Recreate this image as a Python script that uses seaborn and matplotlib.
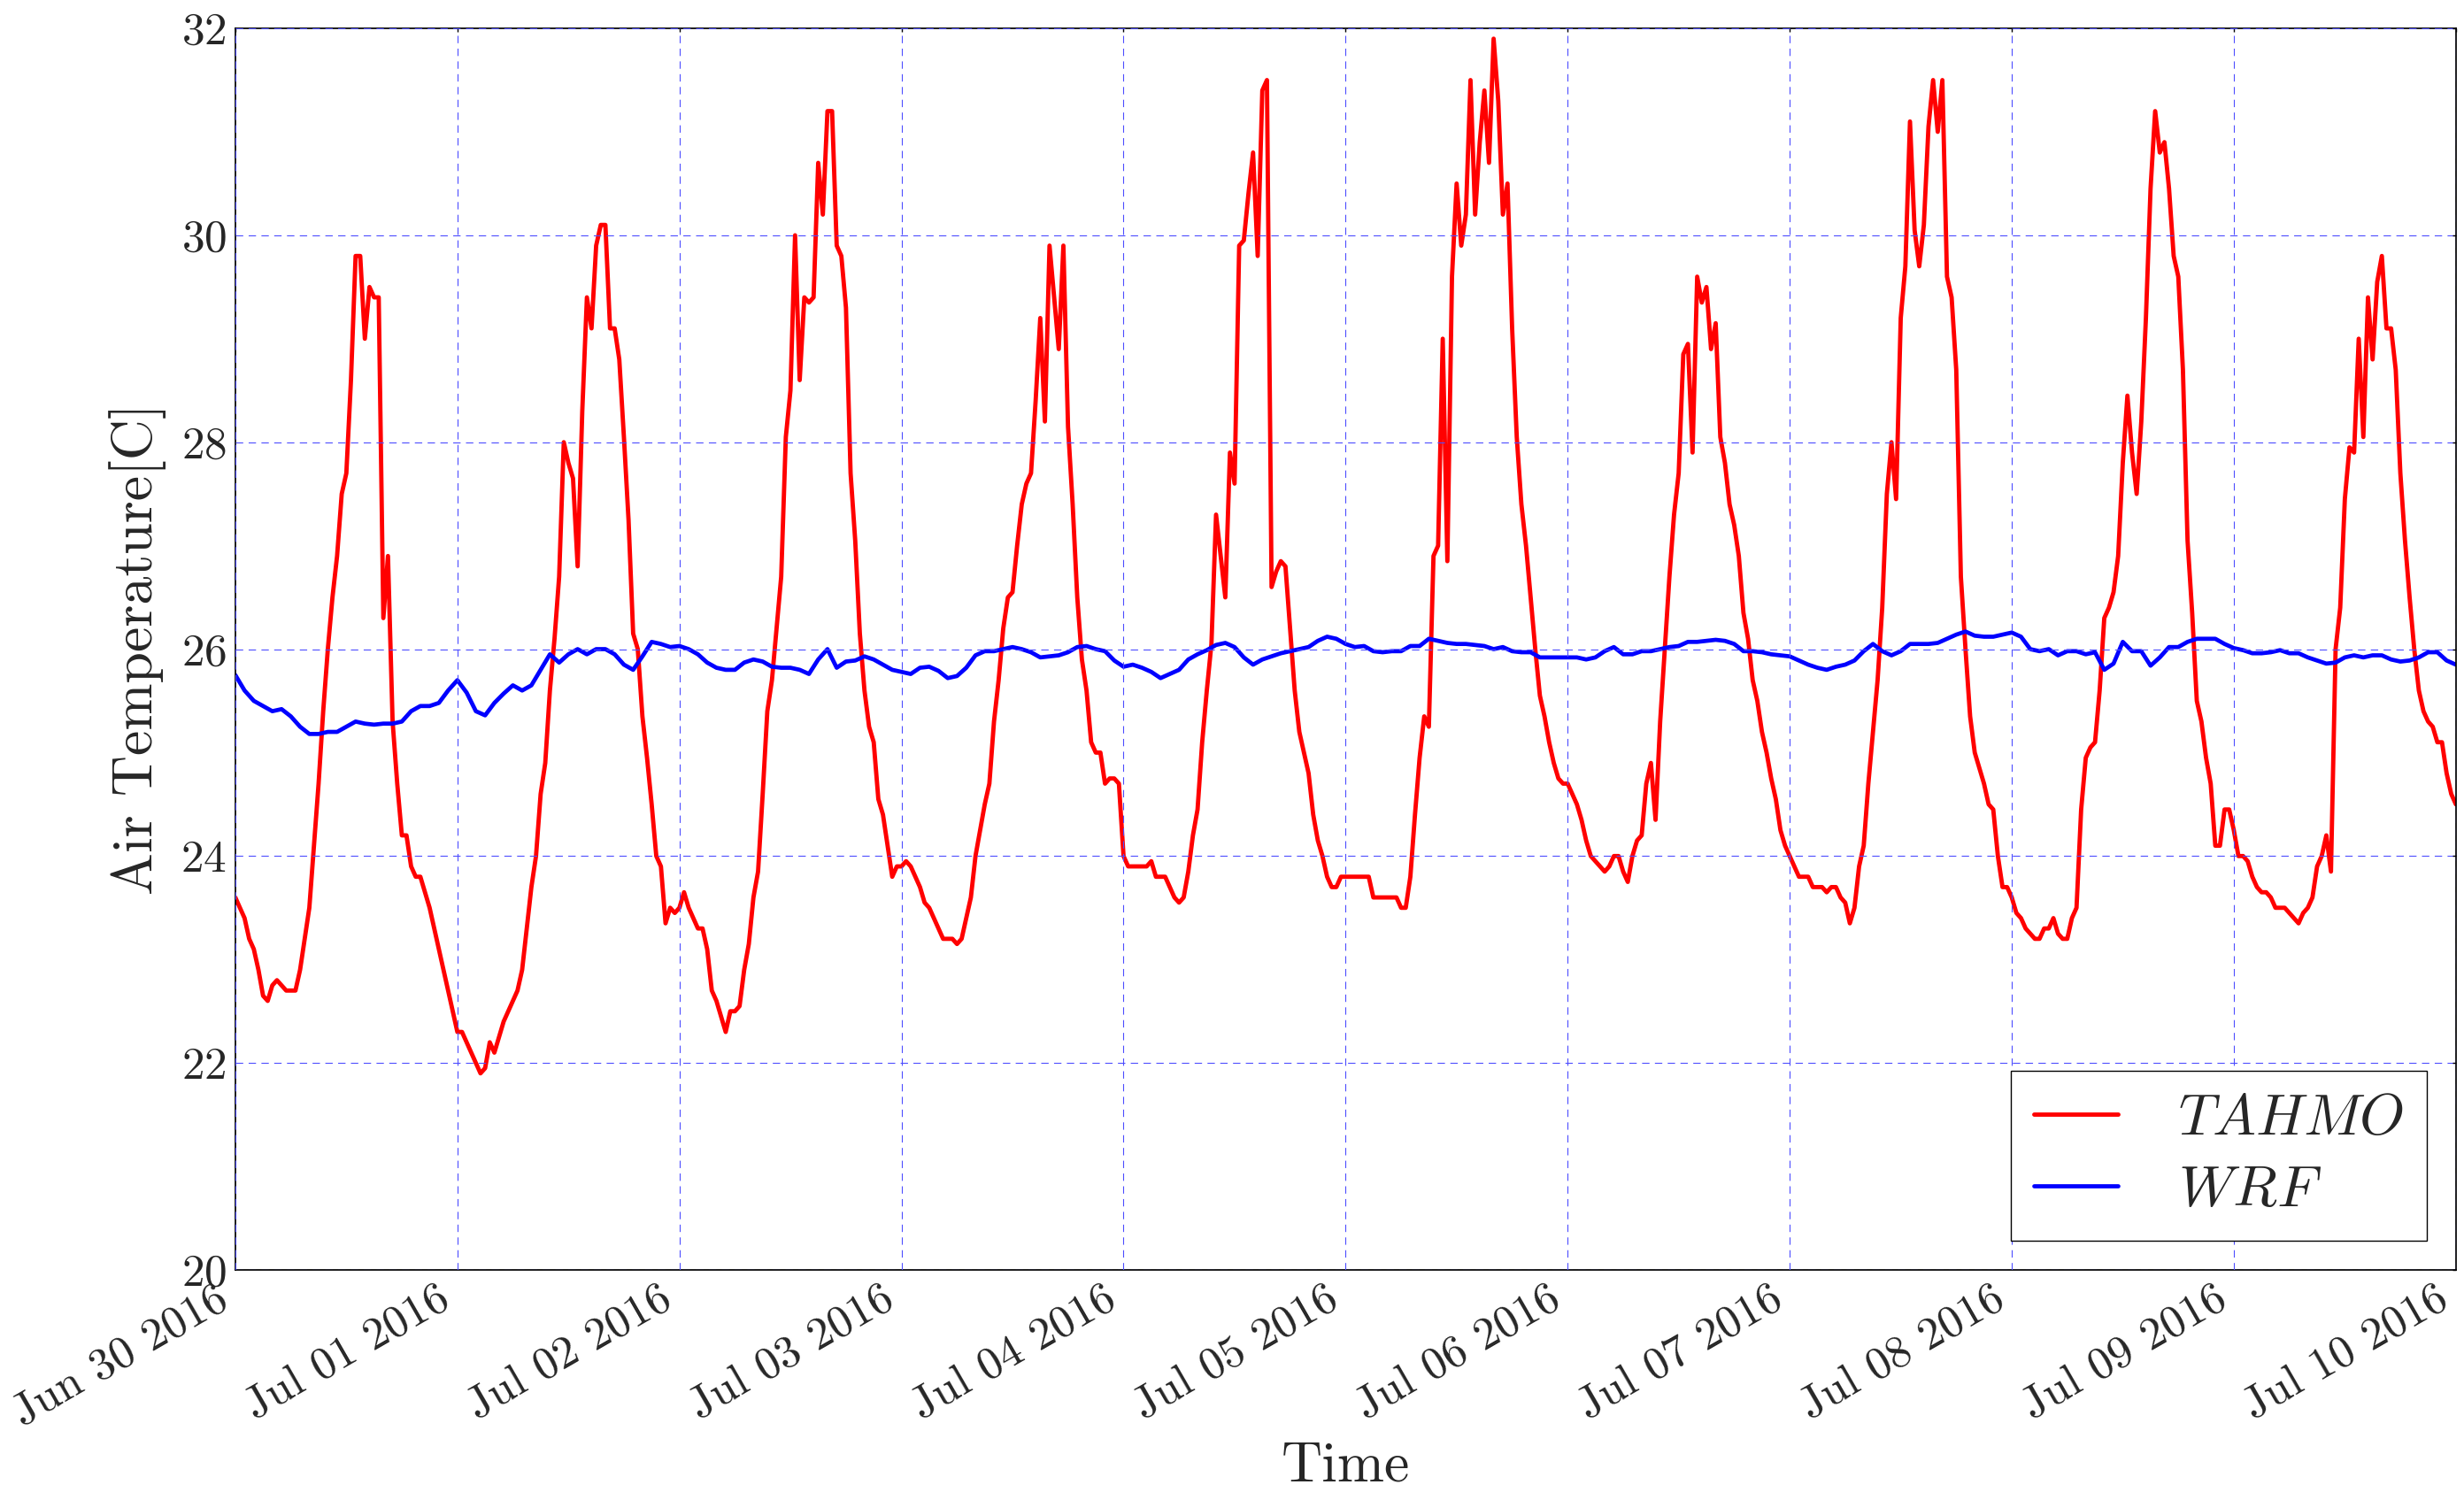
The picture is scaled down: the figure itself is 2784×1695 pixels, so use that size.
import numpy as np
import pandas as pd
import matplotlib
matplotlib.use("Agg")
import matplotlib.pyplot as plt
import matplotlib.dates as mdates
import seaborn as sns

# ---------------- data ----------------
START = "2016-06-30 00:00"

# TAHMO station air temperature, every 30 minutes, one list per day
tahmo_jun30 = [23.6, 23.5, 23.4, 23.2, 23.1, 22.9, 22.65, 22.6, 22.75, 22.8, 22.75, 22.7,
               22.7, 22.7, 22.9, 23.2, 23.5, 24.1, 24.7, 25.4, 26.0, 26.5, 26.9, 27.5,
               27.7, 28.6, 29.8, 29.8, 29.0, 29.5, 29.4, 29.4, 26.3, 26.9, 25.3, 24.7,
               24.2, 24.2, 23.9, 23.8, 23.8, 23.65, 23.5, 23.3, 23.1, 22.9, 22.7, 22.5]
tahmo_jul01 = [22.3, 22.3, 22.2, 22.1, 22.0, 21.9, 21.95, 22.2, 22.1, 22.25, 22.4, 22.5,
               22.6, 22.7, 22.9, 23.3, 23.7, 24.0, 24.6, 24.9, 25.6, 26.1, 26.7, 28.0,
               27.8, 27.65, 26.8, 28.3, 29.4, 29.1, 29.9, 30.1, 30.1, 29.1, 29.1, 28.8,
               28.05, 27.25, 26.15, 26.0, 25.35, 24.95, 24.5, 24.0, 23.9, 23.35, 23.5, 23.45]
tahmo_jul02 = [23.5, 23.65, 23.5, 23.4, 23.3, 23.3, 23.1, 22.7, 22.6, 22.45, 22.3, 22.5,
               22.5, 22.55, 22.9, 23.15, 23.6, 23.85, 24.6, 25.4, 25.7, 26.2, 26.7, 28.05,
               28.5, 30.0, 28.6, 29.4, 29.35, 29.4, 30.7, 30.2, 31.2, 31.2, 29.9, 29.8,
               29.3, 27.7, 27.05, 26.15, 25.6, 25.25, 25.1, 24.55, 24.4, 24.1, 23.8, 23.9]
tahmo_jul03 = [23.9, 23.95, 23.9, 23.8, 23.7, 23.55, 23.5, 23.4, 23.3, 23.2, 23.2, 23.2,
               23.15, 23.2, 23.4, 23.6, 24.0, 24.25, 24.5, 24.7, 25.3, 25.7, 26.2, 26.5,
               26.55, 27.0, 27.4, 27.6, 27.7, 28.4, 29.2, 28.2, 29.9, 29.4, 28.9, 29.9,
               28.15, 27.4, 26.5, 25.9, 25.6, 25.1, 25.0, 25.0, 24.7, 24.75, 24.75, 24.7]
tahmo_jul04 = [24.0, 23.9, 23.9, 23.9, 23.9, 23.9, 23.95, 23.8, 23.8, 23.8, 23.7, 23.6,
               23.55, 23.6, 23.85, 24.2, 24.45, 25.1, 25.6, 26.05, 27.3, 26.9, 26.5, 27.9,
               27.6, 29.9, 29.95, 30.4, 30.8, 29.8, 31.4, 31.5, 26.6, 26.75, 26.85, 26.8,
               26.2, 25.6, 25.2, 25.0, 24.8, 24.4, 24.15, 24.0, 23.8, 23.7, 23.7, 23.8]
tahmo_jul05 = [23.8, 23.8, 23.8, 23.8, 23.8, 23.8, 23.6, 23.6, 23.6, 23.6, 23.6, 23.6,
               23.5, 23.5, 23.8, 24.4, 24.95, 25.35, 25.25, 26.9, 27.0, 29.0, 26.85, 29.6,
               30.5, 29.9, 30.2, 31.5, 30.2, 30.9, 31.4, 30.7, 31.9, 31.3, 30.2, 30.5,
               29.1, 28.05, 27.4, 27.0, 26.5, 26.0, 25.55, 25.35, 25.1, 24.9, 24.75, 24.7]
tahmo_jul06 = [24.7, 24.6, 24.5, 24.35, 24.15, 24.0, 23.95, 23.9, 23.85, 23.9, 24.0, 24.0,
               23.85, 23.75, 24.0, 24.15, 24.2, 24.7, 24.9, 24.35, 25.3, 26.0, 26.7, 27.3,
               27.7, 28.85, 28.95, 27.9, 29.6, 29.35, 29.5, 28.9, 29.15, 28.05, 27.8, 27.4,
               27.2, 26.9, 26.35, 26.1, 25.7, 25.5, 25.2, 25.0, 24.75, 24.55, 24.25, 24.1]
tahmo_jul07 = [24.0, 23.9, 23.8, 23.8, 23.8, 23.7, 23.7, 23.7, 23.65, 23.7, 23.7, 23.6,
               23.55, 23.35, 23.5, 23.9, 24.1, 24.7, 25.2, 25.7, 26.4, 27.5, 28.0, 27.45,
               29.2, 29.7, 31.1, 30.05, 29.7, 30.1, 31.05, 31.5, 31.0, 31.5, 29.6, 29.4,
               28.7, 26.7, 26.0, 25.35, 25.0, 24.85, 24.7, 24.5, 24.45, 24.0, 23.7, 23.7]
tahmo_jul08 = [23.6, 23.45, 23.4, 23.3, 23.25, 23.2, 23.2, 23.3, 23.3, 23.4, 23.25, 23.2,
               23.2, 23.4, 23.5, 24.45, 24.95, 25.05, 25.1, 25.6, 26.3, 26.4, 26.55, 26.9,
               27.8, 28.45, 27.9, 27.5, 28.2, 29.2, 30.45, 31.2, 30.8, 30.9, 30.45, 29.8,
               29.6, 28.7, 27.05, 26.35, 25.5, 25.3, 24.95, 24.7, 24.1, 24.1, 24.45, 24.45]
tahmo_jul09 = [24.25, 24.0, 24.0, 23.95, 23.8, 23.7, 23.65, 23.65, 23.6, 23.5, 23.5, 23.5,
               23.45, 23.4, 23.35, 23.45, 23.5, 23.6, 23.9, 24.0, 24.2, 23.85, 26.0, 26.4,
               27.45, 27.95, 27.9, 29.0, 28.05, 29.4, 28.8, 29.55, 29.8, 29.1, 29.1, 28.7,
               27.7, 27.05, 26.5, 26.0, 25.6, 25.4, 25.3, 25.25, 25.1, 25.1, 24.8, 24.6]
tahmo_jul10 = [24.5]

# WRF model air temperature, hourly, one list per day
wrf_jun30 = [25.75, 25.6, 25.5, 25.45, 25.4, 25.42, 25.35, 25.25, 25.18, 25.18, 25.2, 25.2,
             25.25, 25.3, 25.28, 25.27, 25.28, 25.28, 25.3, 25.4, 25.45, 25.45, 25.48, 25.6]
wrf_jul01 = [25.7, 25.58, 25.4, 25.36, 25.48, 25.57, 25.65, 25.6, 25.65, 25.8, 25.95, 25.87,
             25.95, 26.0, 25.95, 26.0, 26.0, 25.95, 25.85, 25.8, 25.93, 26.07, 26.05, 26.02]
wrf_jul02 = [26.03, 26.0, 25.95, 25.87, 25.82, 25.8, 25.8, 25.87, 25.9, 25.88, 25.83, 25.82,
             25.82, 25.8, 25.76, 25.9, 26.0, 25.82, 25.88, 25.89, 25.93, 25.9, 25.85, 25.8]
wrf_jul03 = [25.78, 25.76, 25.82, 25.83, 25.79, 25.72, 25.74, 25.82, 25.94, 25.98, 25.98, 26.0,
             26.02, 26.0, 25.97, 25.92, 25.93, 25.94, 25.97, 26.02, 26.03, 26.0, 25.98, 25.89]
wrf_jul04 = [25.83, 25.85, 25.82, 25.78, 25.72, 25.76, 25.8, 25.9, 25.95, 25.99, 26.04, 26.06,
             26.02, 25.92, 25.85, 25.9, 25.93, 25.96, 25.98, 26.0, 26.02, 26.08, 26.12, 26.1]
wrf_jul05 = [26.05, 26.02, 26.03, 25.98, 25.97, 25.98, 25.98, 26.03, 26.03, 26.1, 26.08, 26.06,
             26.05, 26.05, 26.04, 26.03, 26.0, 26.02, 25.98, 25.97, 25.97, 25.92, 25.92, 25.92]
wrf_jul06 = [25.92, 25.92, 25.9, 25.92, 25.98, 26.02, 25.95, 25.95, 25.98, 25.98, 26.0, 26.02,
             26.03, 26.07, 26.07, 26.08, 26.09, 26.08, 26.05, 25.98, 25.98, 25.97, 25.95, 25.94]
wrf_jul07 = [25.93, 25.89, 25.85, 25.82, 25.8, 25.83, 25.85, 25.89, 25.98, 26.05, 25.98, 25.94,
             25.98, 26.05, 26.05, 26.05, 26.06, 26.1, 26.14, 26.17, 26.13, 26.12, 26.12, 26.14]
wrf_jul08 = [26.16, 26.12, 26.0, 25.98, 26.0, 25.94, 25.98, 25.98, 25.95, 25.97, 25.8, 25.86,
             26.07, 25.98, 25.98, 25.84, 25.92, 26.02, 26.02, 26.07, 26.1, 26.1, 26.1, 26.05]
wrf_jul09 = [26.01, 25.99, 25.96, 25.96, 25.97, 25.99, 25.96, 25.96, 25.92, 25.89, 25.86, 25.87,
             25.92, 25.94, 25.92, 25.94, 25.94, 25.9, 25.88, 25.89, 25.92, 25.97, 25.97, 25.89]
wrf_jul10 = [25.85]

series_labels = ["$TAHMO$", "$WRF$"]
x_label = "Time"
y_label = "Air Temperature[C]"
y_ticks = [20, 22, 24, 26, 28, 30, 32]

tahmo = np.array(tahmo_jun30 + tahmo_jul01 + tahmo_jul02 + tahmo_jul03 + tahmo_jul04 +
                 tahmo_jul05 + tahmo_jul06 + tahmo_jul07 + tahmo_jul08 + tahmo_jul09 + tahmo_jul10)
wrf = np.array(wrf_jun30 + wrf_jul01 + wrf_jul02 + wrf_jul03 + wrf_jul04 +
               wrf_jul05 + wrf_jul06 + wrf_jul07 + wrf_jul08 + wrf_jul09 + wrf_jul10)

df_tahmo = pd.DataFrame({"time": pd.date_range(START, periods=len(tahmo), freq="30min"),
                         "temp": tahmo})
df_wrf = pd.DataFrame({"time": pd.date_range(START, periods=len(wrf), freq="h"),
                       "temp": wrf})

# ---------------- style ----------------
sns.set_style("white")
plt.rcParams.update({
    "font.family": ["cmr10", "DejaVu Serif"],
    "mathtext.fontset": "cm",
    "axes.formatter.use_mathtext": True,
    "axes.unicode_minus": False,
})

fig = plt.figure(figsize=(27.84, 16.95), dpi=100)
fig.patch.set_facecolor("white")
ax = fig.add_axes([0.0955, 0.1534, 0.9012, 0.8277])

sns.lineplot(data=df_tahmo, x="time", y="temp", color="red", linewidth=3.5,
             label=series_labels[0], ax=ax, legend=False)
sns.lineplot(data=df_wrf, x="time", y="temp", color="blue", linewidth=3.4,
             label=series_labels[1], ax=ax, legend=False)

ax.set_xlim(df_tahmo["time"].iloc[0], df_tahmo["time"].iloc[-1])
ax.set_ylim(y_ticks[0], y_ticks[-1])
ax.set_yticks(y_ticks)
ax.xaxis.set_major_locator(mdates.DayLocator())
ax.xaxis.set_major_formatter(mdates.DateFormatter("%b %d %Y"))

ax.set_axisbelow(False)
ax.grid(True, color=(0.3, 0.3, 1.0), linestyle=(0, (7.5, 5.5)), linewidth=0.8)

for s in ax.spines.values():
    s.set_visible(True)
    s.set_color("black")
    s.set_linewidth(1.25)

ax.tick_params(axis="both", which="major", direction="in", length=3, width=1,
               color="black", top=True, right=True, labelsize=37, pad=7)
for lab in ax.get_xticklabels():
    lab.set_rotation(30)
    lab.set_ha("right")

ax.set_xlabel(x_label, fontsize=46, labelpad=6)
ax.set_ylabel(y_label, fontsize=46, labelpad=12)

leg = ax.legend(loc="lower right", fontsize=47, frameon=True, fancybox=False,
                shadow=False, framealpha=1, edgecolor="black", handlelength=1.45,
                handletextpad=1.05, borderpad=0.4, borderaxespad=0.5, labelspacing=0.35)
leg.get_frame().set_linewidth(1.0)

fig.savefig("out.png", dpi=100, facecolor="white")
